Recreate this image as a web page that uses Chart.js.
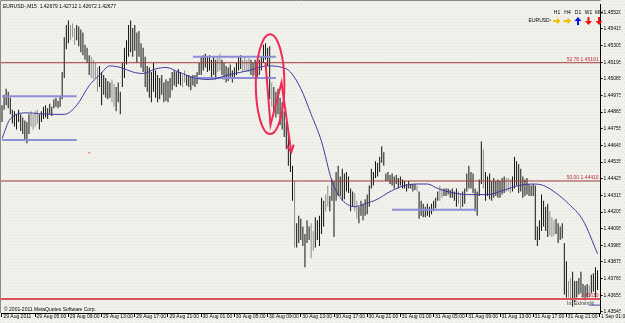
<!DOCTYPE html>
<html>
<head>
<meta charset="utf-8">
<style>
    body {
        margin: 0;
        background-color: #f1f1ec;
    }
</style>
<script src="https://cdn.jsdelivr.net/npm/chart.js"></script>
</head>
<body>
<canvas id="myChart" width="625" height="323"></canvas>
<script>
// EURUSD-, M15 bars from 29 Aug 2011 01:00, one value per bar
var highs = [
    1.4491,1.4498,1.4502,1.4500,1.4496,1.4488,1.4487,1.4485,1.4488,1.4485,1.4483,1.4481,1.4480,1.4485,1.4487,1.4485,
    1.4487,1.4488,1.4485,1.4487,1.4490,1.4491,1.4489,1.4492,1.4490,1.4495,1.4496,1.4494,1.4497,1.4513,1.4536,1.4544,
    1.4547,1.4544,1.4545,1.4542,1.4544,1.4543,1.4541,1.4539,1.4531,1.4529,1.4524,1.4523,1.4521,1.4519,1.4516,1.4517,
    1.4513,1.4511,1.4509,1.4507,1.4506,1.4508,1.4505,1.4503,1.4506,1.4500,1.4519,1.4529,1.4534,1.4544,1.4547,1.4542,
    1.4544,1.4539,1.4540,1.4532,1.4529,1.4523,1.4517,1.4516,1.4513,1.4519,1.4514,1.4511,1.4509,1.4511,1.4506,1.4508,
    1.4507,1.4509,1.4513,1.4514,1.4513,1.4515,1.4513,1.4511,1.4514,1.4511,1.4511,1.4510,1.4511,1.4511,1.4513,1.4519,
    1.4523,1.4524,1.4525,1.4523,1.4524,1.4521,1.4523,1.4521,1.4523,1.4525,1.4521,1.4519,1.4517,1.4516,1.4518,1.4514,
    1.4516,1.4519,1.4523,1.4524,1.4521,1.4523,1.4521,1.4522,1.4521,1.4519,1.4521,1.4518,1.4521,1.4523,1.4531,1.4532,
    1.4529,1.4530,1.4506,1.4503,1.4500,1.4502,1.4496,1.4493,1.4487,1.4480,1.4474,1.4464,1.4451,1.4441,1.4413,1.4418,
    1.4416,1.4411,1.4406,1.4415,1.4411,1.4413,1.4408,1.4417,1.4415,1.4418,1.4430,1.4428,1.4432,1.4438,1.4431,1.4442,
    1.4441,1.4447,1.4451,1.4444,1.4449,1.4446,1.4447,1.4444,1.4436,1.4434,1.4433,1.4428,1.4424,1.4428,1.4426,1.4429,
    1.4432,1.4438,1.4449,1.4447,1.4454,1.4453,1.4457,1.4464,1.4460,1.4446,1.4447,1.4445,1.4446,1.4444,1.4445,1.4443,
    1.4444,1.4442,1.4441,1.4439,1.4441,1.4439,1.4439,1.4439,1.4438,1.4434,1.4428,1.4426,1.4424,1.4426,1.4424,1.4426,
    1.4428,1.4430,1.4434,1.4438,1.4436,1.4436,1.4436,1.4436,1.4435,1.4436,1.4434,1.4436,1.4434,1.4433,1.4434,1.4436,
    1.4446,1.4451,1.4447,1.4446,1.4436,1.4434,1.4442,1.4467,1.4462,1.4447,1.4444,1.4446,1.4441,1.4443,1.4441,1.4442,
    1.4441,1.4443,1.4444,1.4443,1.4443,1.4442,1.4444,1.4457,1.4454,1.4452,1.4449,1.4444,1.4442,1.4443,1.4439,1.4438,
    1.4439,1.4438,1.4411,1.4415,1.4432,1.4428,1.4424,1.4426,1.4421,1.4417,1.4415,1.4416,1.4413,1.4411,1.4413,1.4400,
    1.4388,1.4375,1.4377,1.4381,1.4375,1.4375,1.4377,1.4381,1.4373,1.4372,1.4373,1.4372,1.4379,1.4380,1.4384,1.4382
];
var lows = [
    1.4480,1.4488,1.4491,1.4489,1.4485,1.4479,1.4477,1.4475,1.4480,1.4474,1.4472,1.4468,1.4466,1.4472,1.4477,1.4475,
    1.4477,1.4479,1.4475,1.4480,1.4482,1.4483,1.4482,1.4485,1.4484,1.4489,1.4490,1.4489,1.4490,1.4495,1.4509,1.4528,
    1.4532,1.4534,1.4536,1.4531,1.4534,1.4530,1.4526,1.4524,1.4521,1.4519,1.4511,1.4509,1.4508,1.4509,1.4500,1.4503,
    1.4491,1.4498,1.4496,1.4495,1.4496,1.4493,1.4490,1.4487,1.4493,1.4485,1.4503,1.4509,1.4518,1.4523,1.4526,1.4523,
    1.4527,1.4519,1.4523,1.4516,1.4513,1.4503,1.4500,1.4496,1.4493,1.4500,1.4496,1.4493,1.4495,1.4498,1.4493,1.4494,
    1.4493,1.4496,1.4501,1.4504,1.4503,1.4505,1.4504,1.4503,1.4506,1.4504,1.4503,1.4501,1.4504,1.4503,1.4505,1.4511,
    1.4511,1.4514,1.4516,1.4513,1.4514,1.4509,1.4511,1.4508,1.4513,1.4514,1.4511,1.4508,1.4506,1.4507,1.4509,1.4506,
    1.4509,1.4511,1.4514,1.4515,1.4513,1.4514,1.4513,1.4513,1.4511,1.4510,1.4511,1.4509,1.4511,1.4514,1.4519,1.4521,
    1.4517,1.4495,1.4490,1.4487,1.4483,1.4485,1.4478,1.4475,1.4470,1.4462,1.4451,1.4447,1.4428,1.4397,1.4397,1.4400,
    1.4402,1.4398,1.4384,1.4400,1.4402,1.4390,1.4395,1.4397,1.4402,1.4398,1.4406,1.4411,1.4421,1.4424,1.4421,1.4428,
    1.4404,1.4428,1.4431,1.4431,1.4428,1.4429,1.4434,1.4433,1.4421,1.4424,1.4421,1.4416,1.4413,1.4418,1.4415,1.4418,
    1.4419,1.4424,1.4436,1.4438,1.4443,1.4444,1.4447,1.4453,1.4451,1.4441,1.4441,1.4439,1.4438,1.4436,1.4439,1.4436,
    1.4438,1.4436,1.4436,1.4434,1.4436,1.4436,1.4434,1.4435,1.4434,1.4416,1.4418,1.4417,1.4417,1.4418,1.4417,1.4419,
    1.4421,1.4423,1.4428,1.4428,1.4430,1.4431,1.4431,1.4432,1.4430,1.4430,1.4428,1.4424,1.4426,1.4422,1.4424,1.4426,
    1.4434,1.4436,1.4436,1.4433,1.4421,1.4418,1.4431,1.4439,1.4436,1.4428,1.4431,1.4429,1.4428,1.4430,1.4431,1.4430,
    1.4430,1.4432,1.4433,1.4434,1.4434,1.4433,1.4434,1.4436,1.4438,1.4433,1.4434,1.4430,1.4431,1.4432,1.4431,1.4431,
    1.4431,1.4402,1.4398,1.4402,1.4408,1.4411,1.4408,1.4404,1.4405,1.4404,1.4405,1.4406,1.4400,1.4402,1.4403,1.4366,
    1.4364,1.4364,1.4362,1.4358,1.4361,1.4364,1.4366,1.4367,1.4364,1.4362,1.4364,1.4364,1.4367,1.4368,1.4364,1.4369
];
// bars that show up grey instead of black
var grayBars = [14, 15, 16, 17, 33, 34, 35, 43, 44, 45, 46, 53, 54, 87, 88, 104, 105, 116, 117, 118, 119, 130, 141,
    149, 150, 156, 157, 170, 171, 200, 211, 212, 220, 221, 232, 243, 244, 245, 264, 265, 266, 273, 274, 283];

// one label every 16 bars (4 hours)
var timeLabels = ['29 Aug 2011', '29 Aug 05:00', '29 Aug 09:00', '29 Aug 13:00', '29 Aug 17:00', '29 Aug 21:00',
    '30 Aug 01:00', '30 Aug 05:00', '30 Aug 09:00', '30 Aug 13:00', '30 Aug 17:00', '30 Aug 21:00',
    '31 Aug 01:00', '31 Aug 05:00', '31 Aug 09:00', '31 Aug 13:00', '31 Aug 17:00', '31 Aug 21:00', '1 Sep 01:00'];
var priceTicks = [1.43545, 1.43655, 1.43765, 1.43875, 1.43985, 1.44095, 1.44205, 1.44315, 1.44425, 1.44535,
    1.44645, 1.44755, 1.44865, 1.44975, 1.45085, 1.45195, 1.45305, 1.45415, 1.45520];

var maBars = [0, 4, 12, 23, 30, 36, 42, 47, 52, 57, 63, 68, 74, 79, 85, 93, 100, 109, 119, 128, 135, 139, 144, 149,
    154, 159, 163, 170, 175, 181, 187, 194, 200, 205, 210, 218, 225, 234, 242, 249, 256, 261, 267, 273, 280, 287];
var maValues = [1.4469, 1.4482, 1.4486, 1.4485, 1.4485, 1.4491, 1.4504, 1.4511, 1.4517, 1.4516, 1.4513, 1.4512,
    1.4515, 1.4516, 1.4513, 1.4509, 1.4508, 1.4511, 1.4514, 1.4517, 1.4516, 1.4513, 1.4502, 1.4485, 1.4467, 1.4441,
    1.4430, 1.4424, 1.4426, 1.4429, 1.4434, 1.4438, 1.4439, 1.4439, 1.4436, 1.4433, 1.4432, 1.4432, 1.4435, 1.4438,
    1.4439, 1.4438, 1.4433, 1.4426, 1.4415, 1.4393];

// fibo levels
var fiboPrices = [1.45191, 1.44410, 1.43630];
var fiboTexts = ['52.78 1.45191', '50.00 1.44410', '1.43630'];

// trendlines drawn on the chart: [from bar, to bar, price]
var trendLines = [[0, 36, 1.4497], [0, 36, 1.4468], [92, 132, 1.4523], [92, 132, 1.4509], [188, 229, 1.4422], [283, 288.5, 1.4359]];

// hand drawn zigzag and ellipse
var zigBars = [127, 129.4, 134.7, 139.4];
var zigPrices = [1.4519, 1.4478, 1.4506, 1.4460];
var ellipseBox = [122.3, 136.1, 1.4538, 1.4472];

var xMin = -0.48, xMax = 288.48;
var yMin = 1.43538, yMax = 1.45579;

var datasets = [];

datasets.push({
    type: 'bar',
    order: 10,
    data: highs.map(function (h, i) { return { x: i, y: [lows[i], h] }; }),
    backgroundColor: function (c) { return grayBars.indexOf(c.dataIndex) >= 0 ? '#8c8c8c' : '#111111'; },
    barThickness: 1,
    inflateAmount: 0,
    borderWidth: 0
});

for (var f = 0; f < fiboPrices.length; f++) {
    datasets.push({
        type: 'line',
        order: 3,
        data: [{ x: xMin, y: fiboPrices[f] }, { x: xMax, y: fiboPrices[f] }],
        borderColor: f == 2 ? '#e0505a' : '#a03838',
        borderWidth: f == 2 ? 2 : 1,
        pointRadius: 0
    });
}

for (var t = 0; t < trendLines.length; t++) {
    datasets.push({
        type: 'line',
        order: 2,
        data: [{ x: trendLines[t][0], y: trendLines[t][2] }, { x: trendLines[t][1], y: trendLines[t][2] }],
        borderColor: t == 5 ? '#4646a8' : '#8e8ed8',
        borderWidth: t == 5 ? 1 : 2,
        pointRadius: 0
    });
}

datasets.push({
    type: 'line',
    order: 1,
    data: maBars.map(function (b, k) { return { x: b, y: maValues[k] }; }),
    borderColor: '#3c3ca0',
    borderWidth: 1,
    pointRadius: 0,
    cubicInterpolationMode: 'monotone'
});

datasets.push({
    type: 'line',
    order: 0,
    data: zigBars.map(function (b, k) { return { x: b, y: zigPrices[k] }; }),
    borderColor: '#ee2a55',
    borderWidth: 2,
    pointRadius: 0
});

var background = {
    id: 'background',
    beforeDraw: function (chart) {
        var ctx = chart.ctx;
        ctx.save();
        ctx.fillStyle = '#f1f1ec';
        ctx.fillRect(0, 0, chart.width, chart.height);
        // dotted texture of the terminal window
        ctx.fillStyle = '#e1e1db';
        for (var y = 1; y < chart.height; y += 3) {
            for (var x = (y % 2) * 2; x < chart.width; x += 4) {
                ctx.fillRect(x, y, 1, 1);
            }
        }
        var a = chart.chartArea;
        ctx.strokeStyle = '#8a8a8a';
        ctx.lineWidth = 1;
        ctx.beginPath();
        ctx.moveTo(0.5, a.bottom);
        ctx.lineTo(0.5, 0.5);
        ctx.lineTo(a.right, 0.5);
        ctx.stroke();
        ctx.restore();
    }
};

var extras = {
    id: 'extras',
    afterDatasetsDraw: function (chart) {
        var ctx = chart.ctx;
        var xs = chart.scales.x, ys = chart.scales.y;
        var px = function (b) { return xs.getPixelForValue(b); };
        var py = function (p) { return ys.getPixelForValue(p); };
        ctx.save();

        // red ellipse round the spike
        var ex0 = px(ellipseBox[0]), ex1 = px(ellipseBox[1]);
        var ey0 = py(ellipseBox[2]), ey1 = py(ellipseBox[3]);
        ctx.strokeStyle = '#ee2a55';
        ctx.lineWidth = 2;
        ctx.beginPath();
        ctx.ellipse((ex0 + ex1) / 2, (ey0 + ey1) / 2, (ex1 - ex0) / 2, (ey1 - ey0) / 2, 0, 0, Math.PI * 2);
        ctx.stroke();

        // arrow head on the zigzag
        var n = zigBars.length;
        var tx = px(zigBars[n - 1]), ty = py(zigPrices[n - 1]);
        var fx = px(zigBars[n - 2]), fy = py(zigPrices[n - 2]);
        var ang = Math.atan2(ty - fy, tx - fx);
        ctx.beginPath();
        ctx.moveTo(tx - 8 * Math.cos(ang - 0.45), ty - 8 * Math.sin(ang - 0.45));
        ctx.lineTo(tx, ty);
        ctx.lineTo(tx - 8 * Math.cos(ang + 0.45), ty - 8 * Math.sin(ang + 0.45));
        ctx.stroke();

        // small stray mark
        ctx.fillStyle = '#f06070';
        ctx.fillRect(px(41.6), py(1.4460), 2, 1);

        ctx.font = '5px "Liberation Sans"';
        ctx.textBaseline = 'middle';

        // fibo level texts
        ctx.fillStyle = '#b83038';
        ctx.textAlign = 'right';
        for (var f = 0; f < fiboPrices.length; f++) {
            if (fiboTexts[f]) ctx.fillText(fiboTexts[f], chart.chartArea.right - 2, py(fiboPrices[f]) - 3);
        }

        ctx.fillStyle = '#000';
        ctx.textAlign = 'left';
        ctx.fillText('EURUSD-,M15  1.42679 1.42712 1.42672 1.42677', 3, 7);
        ctx.fillText('\u00a9 2001-2011 MetaQuotes Software Corp.', 4, 310);
        ctx.fillStyle = '#303030';
        ctx.fillText('In: Ex/mm%', 567, 304);

        // trend panel, top right
        var frames = ['H1', 'H4', 'D1', 'W1', 'MN'];
        var dirs = ['r', 'r', 'u', 'd', 'd'];
        var cols = { r: '#f0c000', u: '#1010e0', d: '#ee1010' };
        ctx.textAlign = 'center';
        ctx.fillStyle = '#000';
        ctx.fillText('EURUSD-', 540, 21);
        for (var k = 0; k < frames.length; k++) {
            var cx = 557 + k * 10.5;
            ctx.fillStyle = '#000';
            ctx.fillText(frames[k], cx, 13);
            ctx.fillStyle = cols[dirs[k]];
            ctx.beginPath();
            if (dirs[k] == 'r') {
                ctx.moveTo(cx - 4, 20); ctx.lineTo(cx, 20); ctx.lineTo(cx, 17.5); ctx.lineTo(cx + 3.5, 21);
                ctx.lineTo(cx, 24.5); ctx.lineTo(cx, 22); ctx.lineTo(cx - 4, 22);
            } else if (dirs[k] == 'u') {
                ctx.moveTo(cx - 1, 25); ctx.lineTo(cx - 1, 21); ctx.lineTo(cx - 3.5, 21); ctx.lineTo(cx, 17);
                ctx.lineTo(cx + 3.5, 21); ctx.lineTo(cx + 1, 21); ctx.lineTo(cx + 1, 25);
            } else {
                ctx.moveTo(cx - 1, 17); ctx.lineTo(cx - 1, 21); ctx.lineTo(cx - 3.5, 21); ctx.lineTo(cx, 25);
                ctx.lineTo(cx + 3.5, 21); ctx.lineTo(cx + 1, 21); ctx.lineTo(cx + 1, 17);
            }
            ctx.closePath();
            ctx.fill();
        }
        ctx.restore();
    }
};

Chart.defaults.font.family = '"Liberation Sans", Arial, sans-serif';
Chart.defaults.font.size = 5;
Chart.defaults.color = '#000';

var chart = new Chart(document.getElementById('myChart').getContext('2d'), {
    type: 'bar',
    data: { datasets: datasets },
    options: {
        responsive: false,
        animation: false,
        events: [],
        layout: { padding: { top: 1, left: 1, right: 0, bottom: 0 }, autoPadding: false },
        plugins: { legend: { display: false }, tooltip: { enabled: false } },
        scales: {
            x: {
                type: 'linear',
                min: xMin,
                max: xMax,
                bounds: 'data',
                offset: false,
                afterBuildTicks: function (s) {
                    s.ticks = timeLabels.map(function (l, k) { return { value: k * 16 }; });
                },
                afterFit: function (s) { s.height = 10; },
                grid: { drawOnChartArea: false, offset: false, tickLength: 4, color: '#000' },
                border: { display: true, color: '#000' },
                ticks: {
                    autoSkip: false,
                    maxRotation: 0,
                    minRotation: 0,
                    align: 'start',
                    padding: -3,
                    callback: function (v, idx) { return ' ' + timeLabels[idx]; }
                }
            },
            y: {
                type: 'linear',
                position: 'right',
                min: yMin,
                max: yMax,
                bounds: 'data',
                afterBuildTicks: function (s) {
                    s.ticks = priceTicks.map(function (v) { return { value: v }; });
                },
                afterFit: function (s) { s.width = 20; },
                grid: { drawOnChartArea: false, tickLength: 2, color: '#000' },
                border: { display: true, color: '#000' },
                ticks: {
                    padding: 1,
                    callback: function (v) { return v.toFixed(5); }
                }
            }
        }
    },
    plugins: [background, extras]
});
</script>
</body>
</html>
